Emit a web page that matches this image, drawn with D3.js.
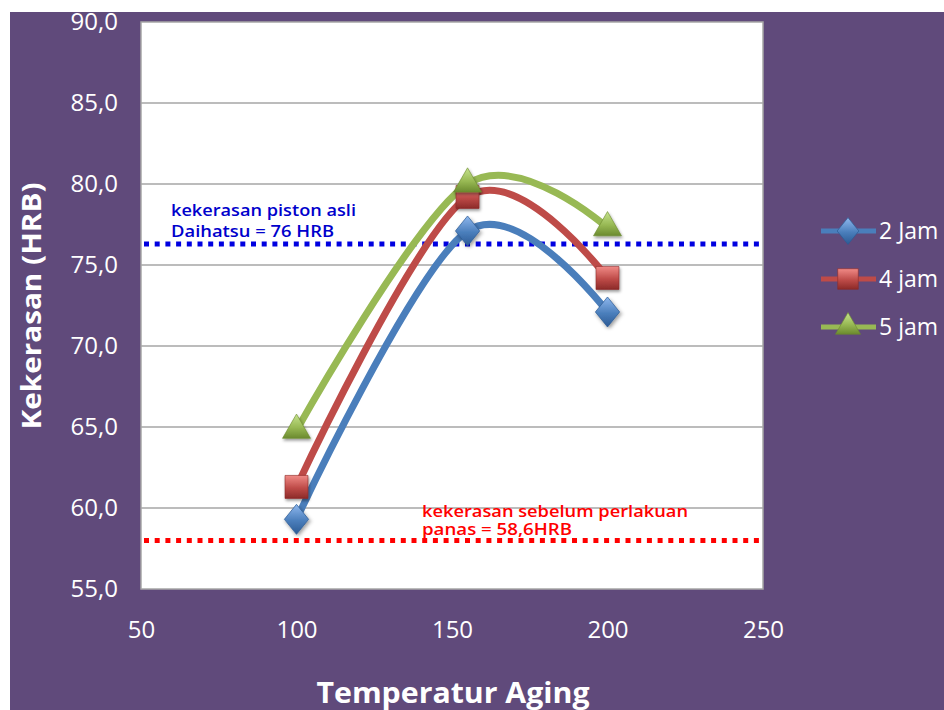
<!DOCTYPE html>
<html>
<head>
<meta charset="utf-8">
<script src="https://cdn.jsdelivr.net/npm/d3@7"></script>
<style>
  body { margin: 0; background: #fff; }
  text { font-family: "Open Sans", Lato, sans-serif; }
</style>
</head>
<body>
<div id="chart"></div>
<script>
// data
var temps = [100, 155, 200];
var jam2 = [59.3, 77.1, 72.1];
var jam4 = [61.3, 79.2, 74.2];
var jam5 = [64.8, 80.0, 77.3];
var seriesNames = ["2 Jam", "4 jam", "5 jam"];
var xTicks = [50, 100, 150, 200, 250];
var yTicks = [55, 60, 65, 70, 75, 80, 85, 90];
var refBlue = 76.3, refRed = 58.0;

var W = 944, H = 710;
var plotL = 141, plotR = 763, plotT = 22, plotB = 589;

var svg = d3.select("#chart").append("svg").attr("width", W).attr("height", H);
var defs = svg.append("defs");

var colors = ["#4a7ebb", "#be4b48", "#98b954"];
var light = ["#8fb8ee", "#f08a86", "#c6e38e"];
var dark = ["#2c5a94", "#8c2a28", "#6b8a2e"];
colors.forEach(function(c, i) {
  var g = defs.append("linearGradient").attr("id", "grad" + i)
    .attr("x1", 0).attr("y1", 0).attr("x2", 0).attr("y2", 1);
  g.append("stop").attr("offset", "0%").attr("stop-color", light[i]);
  g.append("stop").attr("offset", "55%").attr("stop-color", c);
  g.append("stop").attr("offset", "100%").attr("stop-color", dark[i]);
});
var f = defs.append("filter").attr("id", "shadow").attr("x", "-50%").attr("y", "-50%").attr("width", "200%").attr("height", "200%");
f.append("feDropShadow").attr("dx", 1).attr("dy", 2).attr("stdDeviation", 1.5).attr("flood-opacity", 0.4);

// purple background
svg.append("rect").attr("x", 10).attr("y", 12).attr("width", W - 10).attr("height", H - 12).attr("fill", "#604a7b");

var x = d3.scaleLinear().domain([50, 250]).range([plotL, plotR]);
var y = d3.scaleLinear().domain([55, 90]).range([plotB, plotT]);

// plot area
svg.append("rect").attr("x", plotL).attr("y", plotT).attr("width", plotR - plotL).attr("height", plotB - plotT)
  .attr("fill", "#fff").attr("stroke", "#a6a6a6").attr("stroke-width", 1.5);

// gridlines
svg.append("g").selectAll("line").data(yTicks.slice(1, -1)).enter().append("line")
  .attr("x1", plotL).attr("x2", plotR)
  .attr("y1", d => y(d)).attr("y2", d => y(d))
  .attr("stroke", "#a6a6a6").attr("stroke-width", 1.5);

// axes
var yAxis = svg.append("g").attr("transform", "translate(" + (plotL - 23) + ",0)")
  .call(d3.axisLeft(y).tickValues(yTicks).tickSize(0).tickFormat(d => d3.format(".1f")(d).replace(".", ",")));
yAxis.select(".domain").remove();
yAxis.selectAll("text").attr("fill", "#fff").style("font-size", "24px").attr("dy", "0.3em").attr("x", 0);

var xAxis = svg.append("g").attr("transform", "translate(0," + (plotB + 28) + ")")
  .call(d3.axisBottom(x).tickValues(xTicks).tickSize(0));
xAxis.select(".domain").remove();
xAxis.selectAll("text").attr("fill", "#fff").style("font-size", "24px").attr("dy", "0.75em");

// axis titles
svg.append("text").attr("x", 453).attr("y", 703).attr("text-anchor", "middle")
  .attr("fill", "#fff").style("font-size", "29px").style("font-weight", "bold")
  .attr("textLength", 273).attr("lengthAdjust", "spacingAndGlyphs").text("Temperatur Aging");
svg.append("text").attr("transform", "translate(41,306) rotate(-90)").attr("text-anchor", "middle")
  .attr("fill", "#fff").style("font-size", "26px").style("font-weight", "bold")
  .attr("textLength", 247).attr("lengthAdjust", "spacingAndGlyphs").text("Kekerasan (HRB)");

// reference lines
svg.append("line").attr("x1", x(50) + 3).attr("x2", x(250) - 4).attr("y1", y(refBlue)).attr("y2", y(refBlue))
  .attr("stroke", "#0000e0").attr("stroke-width", 5).attr("stroke-dasharray", "5,5.7");
svg.append("line").attr("x1", x(50) + 3).attr("x2", x(250) - 2).attr("y1", y(refRed)).attr("y2", y(refRed))
  .attr("stroke", "#ff0000").attr("stroke-width", 5).attr("stroke-dasharray", "5,5.7");

var blueText = svg.append("g").attr("fill", "#0000cc").style("font-size", "16px").style("font-weight", "600");
blueText.append("text").attr("x", 171).attr("y", 216).attr("textLength", 185).attr("lengthAdjust", "spacingAndGlyphs").text("kekerasan piston asli");
blueText.append("text").attr("x", 171).attr("y", 237).attr("textLength", 163).attr("lengthAdjust", "spacingAndGlyphs").text("Daihatsu = 76 HRB");
var redText = svg.append("g").attr("fill", "#ff0000").style("font-size", "16px").style("font-weight", "600");
redText.append("text").attr("x", 422).attr("y", 517).attr("textLength", 266).attr("lengthAdjust", "spacingAndGlyphs").text("kekerasan sebelum perlakuan");
redText.append("text").attr("x", 422).attr("y", 535).attr("textLength", 150).attr("lengthAdjust", "spacingAndGlyphs").text("panas = 58,6HRB");

// series
var allSeries = [jam2, jam4, jam5];
var line = d3.line().x(d => x(d[0])).y(d => y(d[1])).curve(d3.curveCardinal.tension(0));
var shapes = [d3.symbolDiamond, d3.symbolSquare, d3.symbolTriangle];
var sizes = [260, 530, 340];

allSeries.forEach(function(vals, i) {
  var pts = temps.map((t, j) => [t, vals[j]]);
  svg.append("path").datum(pts).attr("d", line)
    .attr("fill", "none").attr("stroke", colors[i]).attr("stroke-width", 7).attr("stroke-linecap", "round");
});
allSeries.forEach(function(vals, i) {
  var pts = temps.map((t, j) => [t, vals[j]]);
  svg.append("g").selectAll("path").data(pts).enter().append("path")
    .attr("transform", d => "translate(" + x(d[0]) + "," + y(d[1]) + ")" + (i == 0 ? " scale(1.4,1)" : ""))
    .attr("d", d3.symbol().type(shapes[i]).size(sizes[i]))
    .attr("fill", "url(#grad" + i + ")").attr("stroke", dark[i]).attr("stroke-width", 0.6)
    .attr("filter", "url(#shadow)");
});

// legend
var leg = svg.append("g");
seriesNames.forEach(function(name, i) {
  var ly = 231 + i * 48;
  leg.append("line").attr("x1", 821).attr("x2", 876).attr("y1", ly).attr("y2", ly)
    .attr("stroke", colors[i]).attr("stroke-width", 5);
  leg.append("path").attr("transform", "translate(848," + ly + ")" + (i == 0 ? " scale(1.4,1)" : ""))
    .attr("d", d3.symbol().type(shapes[i]).size(sizes[i] * 0.8))
    .attr("fill", "url(#grad" + i + ")").attr("stroke", dark[i]).attr("stroke-width", 0.6);
  leg.append("text").attr("x", 879).attr("y", ly).attr("dy", "0.35em")
    .attr("fill", "#fff").style("font-size", "23px").text(name);
});
</script>
</body>
</html>
